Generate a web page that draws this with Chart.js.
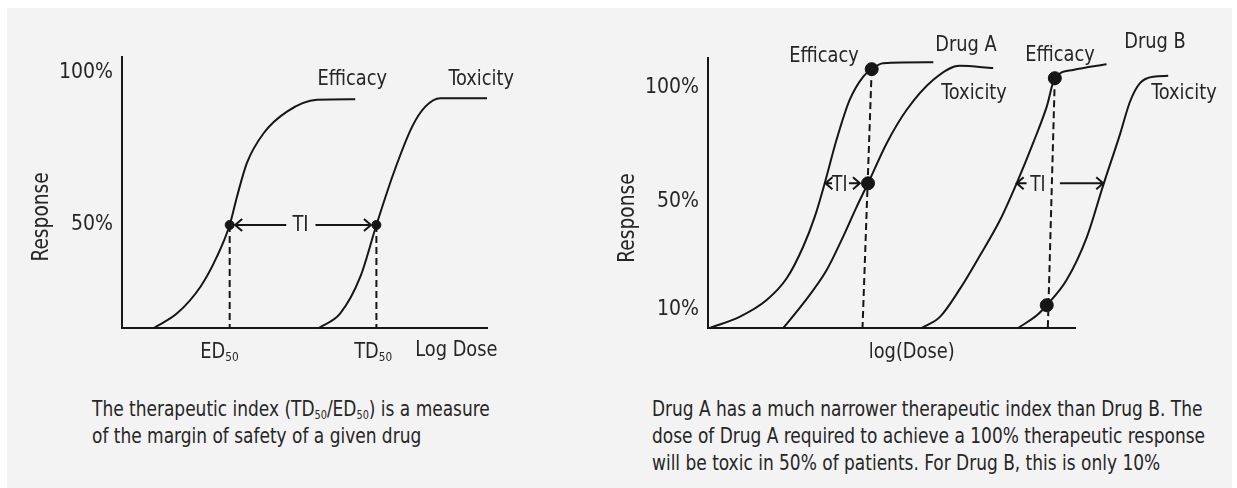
<!DOCTYPE html>
<html>
<head>
<meta charset="utf-8">
<script src="https://cdn.jsdelivr.net/npm/chart.js@4.4.0/dist/chart.umd.min.js"></script>
<style>
  html, body { margin: 0; padding: 0; background: #fff; }
  body { width: 1237px; height: 488px; position: relative; overflow: hidden;
         font-family: "Liberation Sans Narrow", "DejaVu Sans Condensed", sans-serif; color: #262626; }
  #panel { position: absolute; left: 7px; top: 8px; width: 1225px; height: 480px; background: #f3f3f3; }
  #leftChart { position: absolute; left: 0; top: 0; }
  #rightChart { position: absolute; left: 560px; top: 0; }
  .caption { position: absolute; font-size: 21px; line-height: 27px; white-space: nowrap;
             transform: scaleX(0.9); transform-origin: 0 0; }
  .caption sub { font-size: 12px; vertical-align: -3px; line-height: 0; }
</style>
</head>
<body>
<div id="panel"></div>
<canvas id="leftChart" width="560" height="380"></canvas>
<canvas id="rightChart" width="677" height="380"></canvas>
<div class="caption" style="left:92px; top:396px;">The therapeutic index (TD<sub>50</sub>/ED<sub>50</sub>) is a measure<br>of the margin of safety of a given drug</div>
<div class="caption" style="left:652px; top:396px;">Drug A has a much narrower therapeutic index than Drug B. The<br>dose of Drug A required to achieve a 100% therapeutic response<br>will be toxic in 50% of patients. For Drug B, this is only 10%</div>
<script>
// Left panel: one drug, efficacy vs toxicity (log dose units, response %)
const leftEfficacyDose = [0.87, 1.51, 2.15, 2.60, 2.95, 3.15, 3.42, 3.88, 4.52, 5.34, 6.39];
const leftEfficacyResp = [0, 7.1, 20.0, 34.6, 50, 63.7, 80.0, 94.5, 105.0, 110.7, 111.0];
const leftToxicityDose = [5.39, 5.98, 6.53, 6.97, 7.44, 7.95, 8.31, 8.72, 10];
const leftToxicityResp = [0, 7.1, 24.9, 50, 75.1, 97.7, 107.4, 111.5, 111.5];
const leftMarkDose = [2.95, 6.97];   // ED50, TD50
const leftMarkResp = [50, 50];
const leftTickValues = [50, 124];
const leftTickLabels = ['50%', '100%'];

// Right panel: drug A and drug B
const drugAEffDose = [0.05, 0.86, 1.59, 2.14, 2.59, 2.91, 3.18, 3.50, 3.86, 4.23, 4.46, 4.77, 6.14];
const drugAEffResp = [0, 4.3, 10.7, 19.1, 31.3, 43.0, 55.9, 72.6, 88.1, 97.1, 100, 102.3, 102.7];
const drugAToxDose = [2.05, 2.59, 3.23, 3.68, 4.05, 4.36, 4.87, 5.41, 6.14, 6.86, 7.77];
const drugAToxResp = [0, 9.4, 22.3, 35.2, 46.8, 55.9, 71.4, 84.2, 95.9, 101.3, 100.4];
const drugBEffDose = [5.82, 6.32, 6.86, 7.41, 7.95, 8.41, 8.86, 9.23, 9.45, 9.95, 10.86];
const drugBEffResp = [0, 4.3, 15.0, 28.0, 41.5, 55.9, 71.5, 85.5, 96.5, 99.7, 101.9];
const drugBToxDose = [8.45, 8.96, 9.23, 9.77, 10.32, 10.77, 11.23, 11.50, 11.77, 12.14, 12.54];
const drugBToxResp = [0, 4.9, 8.8, 18.5, 35.0, 55.2, 75.0, 87.5, 94.6, 97.1, 97.4];
const rightMarkDose = [4.46, 4.36, 9.45, 9.23];
const rightMarkResp = [100, 55.9, 96.5, 8.8];
const rightDropBaseDose = [4.21, 9.26];
const rightTickValues = [7, 49, 93];
const rightTickLabels = ['10%', '50%', '100%'];

const FONT = '"Liberation Sans Narrow", "DejaVu Sans Condensed", sans-serif';
const INK = '#161616';
const TEXT = '#262626';
const SQUEEZE = 0.9;   // the original lettering is condensed

function pts(xs, ys) {
    return xs.map((x, i) => ({ x: x, y: ys[i] }));
}

function curve(xs, ys) {
    return {
        data: pts(xs, ys),
        borderColor: INK,
        borderWidth: 2,
        pointRadius: 0,
        cubicInterpolationMode: 'monotone',
        clip: false
    };
}

function dashed(data) {
    return {
        data: data,
        borderColor: INK,
        borderWidth: 2,
        borderDash: [7, 4],
        pointRadius: 0,
        clip: false
    };
}

function dots(xs, ys, r) {
    return {
        data: pts(xs, ys),
        showLine: false,
        pointRadius: r,
        pointBackgroundColor: INK,
        pointBorderColor: INK,
        clip: false
    };
}

// Text and TI arrows are drawn in data units through the scales
function annotationPlugin(notes) {
    return {
        id: 'notes',
        afterDatasetsDraw(chart) {
            const ctx = chart.ctx;
            const xs = chart.scales.x, ys = chart.scales.y;
            ctx.save();
            ctx.fillStyle = TEXT;
            ctx.strokeStyle = INK;
            ctx.lineWidth = 2;
            ctx.textBaseline = 'middle';
            notes.texts.forEach(t => {
                const px = xs.getPixelForValue(t.x), py = ys.getPixelForValue(t.y);
                const size = t.size || 22;
                ctx.save();
                ctx.translate(px, py);
                if (t.rotate) {
                    ctx.rotate(-Math.PI / 2);
                    ctx.scale(SQUEEZE, 1);
                    ctx.textAlign = 'center';
                    ctx.font = size + 'px ' + FONT;
                    ctx.fillText(t.text, 0, 0);
                } else if (t.sub) {
                    ctx.scale(SQUEEZE, 1);
                    ctx.textAlign = 'left';
                    ctx.font = size + 'px ' + FONT;
                    const w1 = ctx.measureText(t.text).width;
                    ctx.font = '13px ' + FONT;
                    const w2 = ctx.measureText(t.sub).width;
                    const left = -(w1 + w2) / 2;
                    ctx.font = size + 'px ' + FONT;
                    ctx.fillText(t.text, left, 0);
                    ctx.font = '13px ' + FONT;
                    ctx.fillText(t.sub, left + w1, 6);
                } else {
                    ctx.scale(SQUEEZE, 1);
                    ctx.textAlign = 'center';
                    ctx.font = size + 'px ' + FONT;
                    ctx.fillText(t.text, 0, 0);
                }
                ctx.restore();
            });
            notes.arrows.forEach(a => {
                const y = ys.getPixelForValue(a.y);
                const h1 = xs.getPixelForValue(a.head1), e1 = xs.getPixelForValue(a.end1);
                const s2 = xs.getPixelForValue(a.start2), h2 = xs.getPixelForValue(a.head2);
                ctx.beginPath();
                ctx.moveTo(h1, y); ctx.lineTo(e1, y);
                ctx.moveTo(s2, y); ctx.lineTo(h2, y);
                ctx.moveTo(h1 + 7, y - 6); ctx.lineTo(h1, y); ctx.lineTo(h1 + 7, y + 6);
                ctx.moveTo(h2 - 7, y - 6); ctx.lineTo(h2, y); ctx.lineTo(h2 - 7, y + 6);
                ctx.stroke();
            });
            ctx.restore();
        }
    };
}

function axisOptions(yMax, tickValues, tickLabels, yWidth, xMin, xMax) {
    return {
        x: {
            type: 'linear',
            bounds: 'data',
            afterDataLimits(scale) { scale.min = xMin; scale.max = xMax; },
            afterFit(scale) { scale.height = 52; },
            grid: { display: false, drawTicks: false },
            border: { display: true, color: INK, width: 2 },
            ticks: { display: false }
        },
        y: {
            type: 'linear',
            min: 0,
            max: yMax,
            bounds: 'data',
            afterBuildTicks(scale) { scale.ticks = tickValues.map(v => ({ value: v })); },
            afterFit(scale) { scale.width = yWidth; },
            grid: { display: false, drawTicks: false },
            border: { display: true, color: INK, width: 2 },
            ticks: {
                padding: 9,
                color: TEXT,
                font: { family: FONT, size: 21 },
                callback: (v) => tickLabels[tickValues.indexOf(v)]
            }
        }
    };
}

const baseOptions = {
    responsive: false,
    animation: false,
    events: [],
    plugins: { legend: { display: false }, tooltip: { enabled: false } }
};

new Chart(document.getElementById('leftChart'), {
    type: 'line',
    data: {
        datasets: [
            curve(leftEfficacyDose, leftEfficacyResp),
            curve(leftToxicityDose, leftToxicityResp),
            dashed([{ x: leftMarkDose[0], y: leftMarkResp[0] }, { x: leftMarkDose[0], y: 0 }]),
            dashed([{ x: leftMarkDose[1], y: leftMarkResp[1] }, { x: leftMarkDose[1], y: 0 }]),
            dots(leftMarkDose, leftMarkResp, 4.5)
        ]
    },
    options: Object.assign({}, baseOptions, {
        layout: { padding: { left: 0, top: 57, right: 73, bottom: 0 } },
        scales: axisOptions(131.5, leftTickValues, leftTickLabels, 122, 0, 10)
    }),
    plugins: [annotationPlugin({
        texts: [
            { text: 'Efficacy', x: 6.31, y: 120.9 },
            { text: 'Toxicity', x: 9.84, y: 120.9 },
            { text: 'ED', sub: '50', x: 2.67, y: -11.6 },
            { text: 'TD', sub: '50', x: 6.88, y: -11.6 },
            { text: 'Log Dose', x: 9.16, y: -11.0 },
            { text: 'Response', x: -2.18, y: 53.9, rotate: true, size: 23 },
            { text: 'TI', x: 4.89, y: 50, size: 22 }
        ],
        arrows: [
            { y: 50, head1: 3.1, end1: 4.5, start2: 5.3, head2: 6.82 }
        ]
    })]
});

new Chart(document.getElementById('rightChart'), {
    type: 'line',
    data: {
        datasets: [
            curve(drugAEffDose, drugAEffResp),
            curve(drugAToxDose, drugAToxResp),
            curve(drugBEffDose, drugBEffResp),
            curve(drugBToxDose, drugBToxResp),
            dashed([{ x: rightMarkDose[0], y: rightMarkResp[0] }, { x: rightDropBaseDose[0], y: 0 }]),
            dashed([{ x: rightMarkDose[2], y: rightMarkResp[2] }, { x: rightDropBaseDose[1], y: 0 }]),
            dots(rightMarkDose, rightMarkResp, 6.5)
        ]
    },
    options: Object.assign({}, baseOptions, {
        layout: { padding: { left: 0, top: 58, right: 162, bottom: 0 } },
        scales: axisOptions(104.3, rightTickValues, rightTickLabels, 148, 0, 10)
    }),
    plugins: [annotationPlugin({
        texts: [
            { text: 'Efficacy', x: 3.16, y: 104.8 },
            { text: 'Drug A', x: 7.03, y: 109.4 },
            { text: 'Toxicity', x: 7.25, y: 90.8 },
            { text: 'Efficacy', x: 9.59, y: 105.5 },
            { text: 'Drug B', x: 12.18, y: 110.2 },
            { text: 'Toxicity', x: 12.97, y: 90.8 },
            { text: 'Response', x: -2.19, y: 42.5, rotate: true, size: 23 },
            { text: 'log(Dose)', x: 5.55, y: -9.4 },
            { text: 'TI', x: 3.59, y: 55.2, size: 21 },
            { text: 'TI', x: 8.99, y: 55.2, size: 21 }
        ],
        arrows: [
            { y: 55.9, head1: 3.2, end1: 3.38, start2: 3.84, head2: 4.14 },
            { y: 55.9, head1: 8.41, end1: 8.68, start2: 9.59, head2: 10.77 }
        ]
    })]
});
</script>
</body>
</html>
